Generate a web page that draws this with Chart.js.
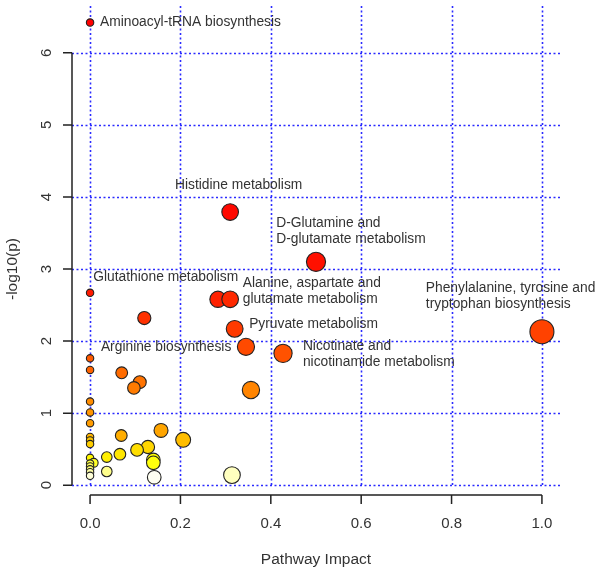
<!DOCTYPE html>
<html>
<head>
<meta charset="utf-8">
<style>
html,body{margin:0;background:#fff}
#wrap{width:600px;height:576px}
</style>
</head>
<body>
<div id="wrap"><canvas id="chart"></canvas></div>
<script src="https://cdn.jsdelivr.net/npm/chart.js"></script>
<script>
// pathway impact / -log10(p)
const impact=[0,0.31,0.50,0,0.283,0.31,0.12,0.32,1.0,0.345,0.427,0,0,0.07,0.11,0.097,0.356,0,0,0,
  0.157,0.069,0,0.206,0,0,0.128,0.104,0.066,0.037,0,0.14,0.14,0.008,0,0,0,0,0,0.037,0.314,0.142];
const logp=[6.42,3.79,3.10,2.67,2.58,2.58,2.32,2.17,2.13,1.92,1.83,1.76,1.60,1.56,1.43,1.35,1.32,1.16,1.01,0.86,
  0.76,0.69,0.67,0.63,0.62,0.57,0.53,0.49,0.43,0.39,0.38,0.35,0.31,0.31,0.30,0.26,0.22,0.18,0.13,0.19,0.14,0.11];

const xTicks=[0,0.2,0.4,0.6,0.8,1.0];
const yTicks=[0,1,2,3,4,5,6];

// labelled pathways, text anchor in data units
const labelText=[
  ["Aminoacyl-tRNA biosynthesis"],
  ["Histidine metabolism"],
  ["D-Glutamine and","D-glutamate metabolism"],
  ["Glutathione metabolism"],
  ["Alanine, aspartate and","glutamate metabolism"],
  ["Pyruvate metabolism"],
  ["Phenylalanine, tyrosine and","tryptophan biosynthesis"],
  ["Arginine biosynthesis"],
  ["Nicotinate and","nicotinamide metabolism"]
];
const labelX=[0.022,0.188,0.412,0.007,0.338,0.352,0.743,0.024,0.471];
const labelY=[6.43,4.17,3.64,2.89,2.81,2.24,2.74,1.92,1.93];

// R heat.colors(n)
function heatColors(n){
  const j=Math.floor(n/4), i=n-j, out=[];
  const hsv=(h,s,v)=>{
    const f=(k)=>{const kk=(k+h*6)%6;return v-v*s*Math.max(0,Math.min(kk,4-kk,1));};
    return `rgb(${Math.round(f(5)*255)},${Math.round(f(3)*255)},${Math.round(f(1)*255)})`;
  };
  for(let k=0;k<i;k++) out.push(hsv(i>1?k/(i-1)/6:0,1,1));
  for(let k=0;k<j;k++){
    const s0=1-1/(2*j), s1=1/(2*j);
    out.push(hsv(1/6,j>1?s0+(s1-s0)*k/(j-1):s0,1));
  }
  return out;
}
const heat=heatColors(logp.length);
const order=logp.map((v,i)=>i).sort((a,b)=>logp[b]-logp[a]);
const rank=[];
order.forEach((idx,r)=>rank[idx]=r);

const FONT="'Liberation Sans', Arial, sans-serif";

const rAxes={
  id:"rAxes",
  beforeDatasetsDraw(chart){
    const {ctx,chartArea:a,scales:{x,y}}=chart;
    ctx.save();
    ctx.strokeStyle="#2b2bff";
    ctx.lineWidth=1.6;
    ctx.setLineDash([2,2.5]);
    yTicks.forEach(t=>{
      const py=Math.round(y.getPixelForValue(t))+0.5;
      ctx.beginPath();ctx.moveTo(a.left,py);ctx.lineTo(a.right+2,py);ctx.stroke();
    });
    xTicks.forEach(t=>{
      const px=Math.round(x.getPixelForValue(t))+0.5;
      ctx.beginPath();ctx.moveTo(px,a.top);ctx.lineTo(px,y.getPixelForValue(0));ctx.stroke();
    });
    ctx.restore();
  },
  afterDatasetsDraw(chart){
    const {ctx,chartArea:a,scales:{x,y}}=chart;
    ctx.save();
    // axes
    ctx.strokeStyle="#222";
    ctx.lineWidth=1.5;
    const ay=a.bottom-1, ax=a.left;
    ctx.beginPath();
    ctx.moveTo(x.getPixelForValue(0),ay);ctx.lineTo(x.getPixelForValue(1),ay);
    xTicks.forEach(t=>{const px=x.getPixelForValue(t);ctx.moveTo(px,ay);ctx.lineTo(px,ay+9);});
    ctx.moveTo(ax,y.getPixelForValue(0));ctx.lineTo(ax,y.getPixelForValue(6));
    yTicks.forEach(t=>{const py=y.getPixelForValue(t);ctx.moveTo(ax,py);ctx.lineTo(ax-9,py);});
    ctx.stroke();

    ctx.fillStyle="#333";
    ctx.font="15px "+FONT;
    ctx.textAlign="center";ctx.textBaseline="middle";
    xTicks.forEach(t=>ctx.fillText(t.toFixed(1),x.getPixelForValue(t),a.bottom+28));
    yTicks.forEach(t=>{
      ctx.save();
      ctx.translate(ax-25,y.getPixelForValue(t));
      ctx.rotate(-Math.PI/2);
      ctx.fillText(String(t),0,0);
      ctx.restore();
    });
    ctx.font="15.5px "+FONT;
    ctx.fillText("Pathway Impact",(a.left+a.right)/2,a.bottom+64);
    ctx.save();
    ctx.translate(13,(y.getPixelForValue(0)+y.getPixelForValue(6))/2);
    ctx.rotate(-Math.PI/2);
    ctx.fillText("-log10(p)",0,0);
    ctx.restore();

    // pathway names
    ctx.font="13.8px "+FONT;
    ctx.textAlign="left";
    labelText.forEach((lines,i)=>{
      const px=x.getPixelForValue(labelX[i]), py=y.getPixelForValue(labelY[i]);
      lines.forEach((s,k)=>ctx.fillText(s,px,py+k*16.5));
    });
    ctx.restore();
  }
};

new Chart(document.getElementById("chart"),{
  type:"scatter",
  data:{datasets:[{
    data:impact.map((v,i)=>({x:v,y:logp[i]})),
    backgroundColor:c=>heat[rank[c.dataIndex]],
    borderColor:"#222",
    borderWidth:1.1,
    pointRadius:c=>3.7+8.3*Math.sqrt(impact[c.dataIndex]),
    pointHoverRadius:c=>3.7+8.3*Math.sqrt(impact[c.dataIndex])
  }]},
  options:{
    responsive:true,
    maintainAspectRatio:false,
    animation:false,
    layout:{autoPadding:false,padding:{left:72,right:40,top:6,bottom:80}},
    plugins:{legend:{display:false},tooltip:{enabled:false}},
    scales:{
      x:{type:"linear",display:false,min:-0.04,max:1.04},
      y:{type:"linear",display:false,min:-0.15,max:6.65}
    }
  },
  plugins:[rAxes]
});
</script>
</body>
</html>
